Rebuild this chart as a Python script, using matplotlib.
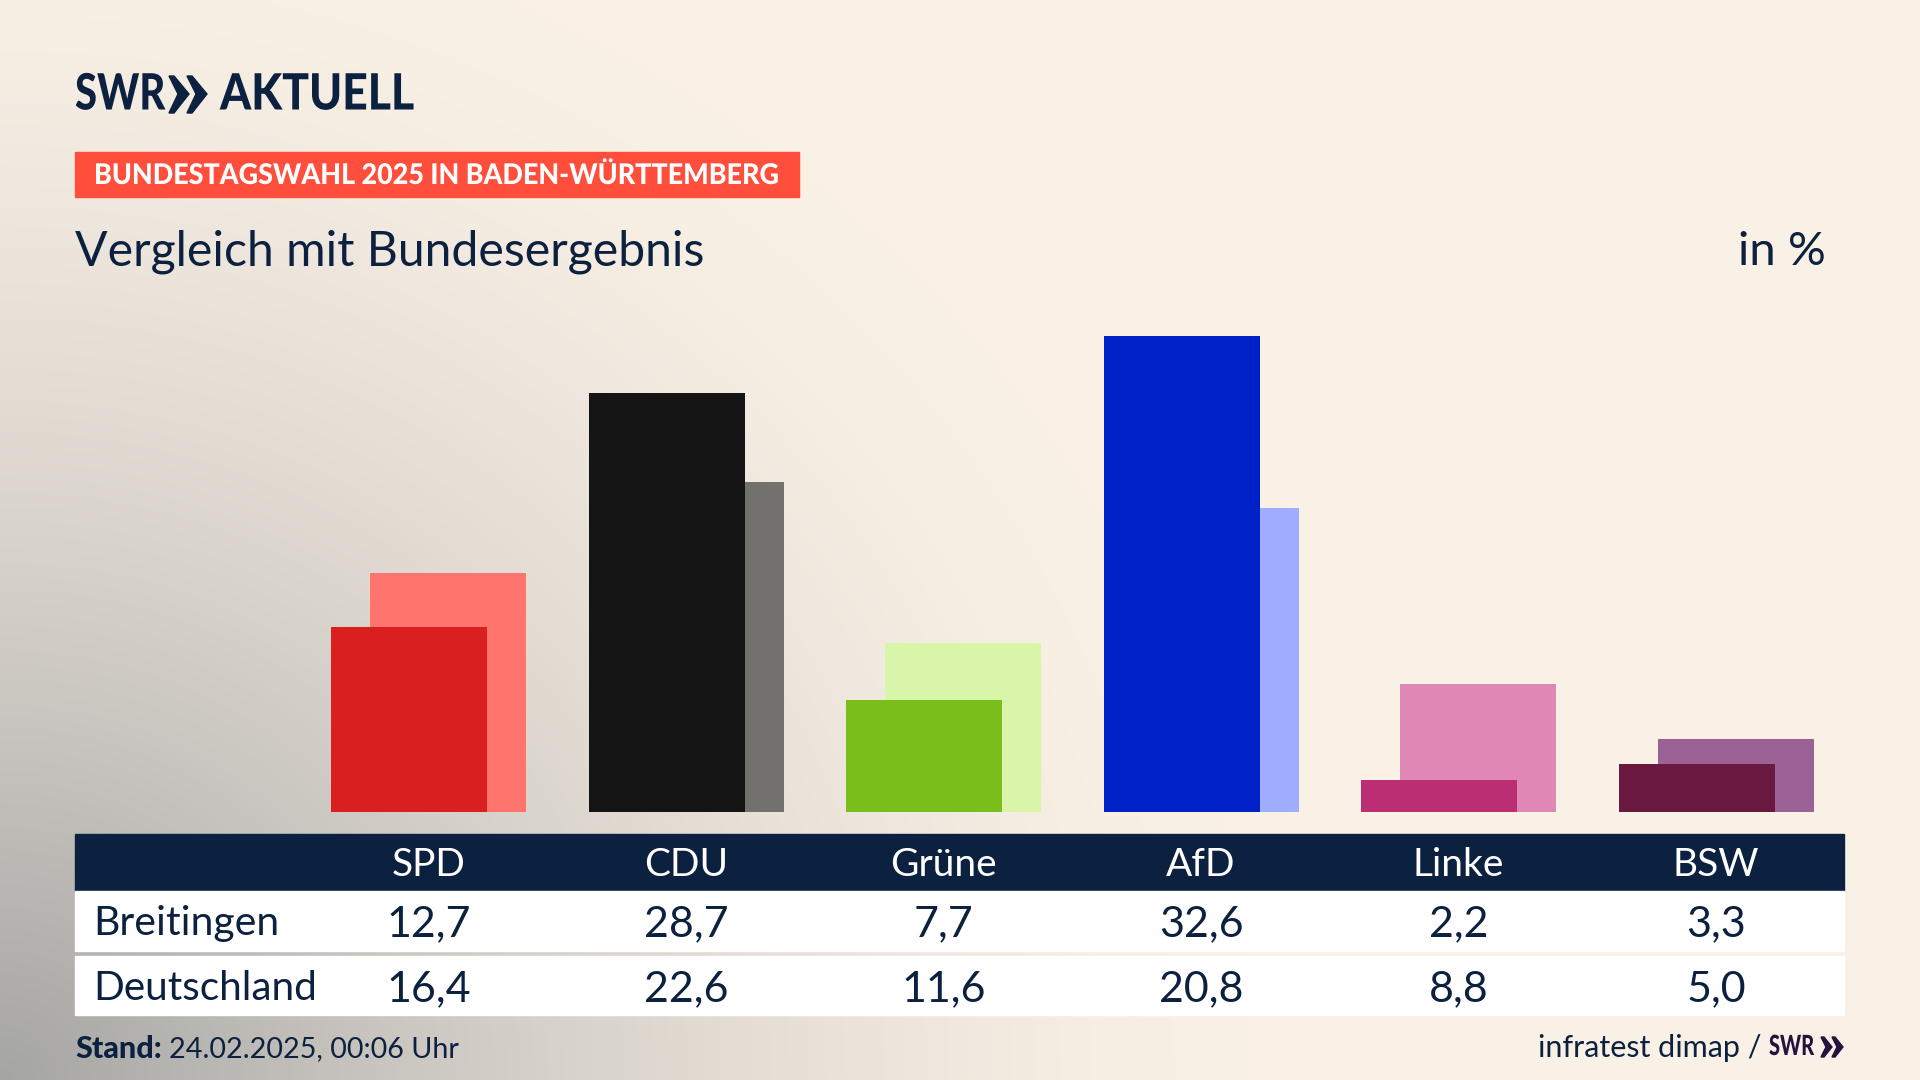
import numpy as np
from matplotlib import pyplot as plt
from matplotlib.patches import Rectangle, Polygon
from matplotlib.patheffects import AbstractPathEffect
from matplotlib.transforms import Affine2D, blended_transform_factory

plt.rcParams['font.family'] = ['Lato', 'DejaVu Sans']

parties = ['SPD', 'CDU', 'Grüne', 'AfD', 'Linke', 'BSW']
breitingen = [12.7, 28.7, 7.7, 32.6, 2.2, 3.3]
deutschland = [16.4, 22.6, 11.6, 20.8, 8.8, 5.0]
front_colors = ['#D9201E', '#141414', '#7ABE1B', '#0020C8', '#BC2E74', '#6A1A40']
back_colors = ['#FF746C', '#73716E', '#D8F5A9', '#9FADFF', '#DF88B6', '#9C6296']

NAVY = '#0C203F'
W, H = 1920, 1080


class Condense(AbstractPathEffect):
    # squeezes a text horizontally around its left edge, the installed fonts have no condensed cut
    def __init__(self, sx, x0):
        super().__init__()
        self.sx = sx
        self.x0 = x0

    def draw_path(self, renderer, gc, tpath, affine, rgbFace=None):
        squeeze = Affine2D().translate(-self.x0, 0).scale(self.sx, 1).translate(self.x0, 0)
        renderer.draw_path(gc, tpath, affine + squeeze, rgbFace)


def narrow_text(x, y, s, sx, **kw):
    t = page.text(x, y, s, va='center', ha='left', **kw)
    t.set_path_effects([Condense(sx, x)])
    return t


fig = plt.figure(figsize=(19.2, 10.8), dpi=100)

# page layer in pixel coordinates, y pointing down
page = fig.add_axes([0, 0, 1, 1])
page.set_xlim(0, W)
page.set_ylim(H, 0)
page.axis('off')

# background: cream with a grey glow from the lower left corner
xx, yy = np.meshgrid(np.linspace(0, W, 480), np.linspace(0, H, 270))
d = np.sqrt((xx / 1250) ** 2 + ((H - yy) / 1180) ** 2)
t = np.clip(1 - d, 0, 1) ** 1.5
cream = np.array([250, 241, 230]) / 255
grey = np.array([165, 165, 163]) / 255
bg = cream[None, None, :] * (1 - t[..., None]) + grey[None, None, :] * t[..., None]
page.imshow(bg, extent=(0, W, H, 0), aspect='auto', zorder=0, interpolation='bilinear')
page.set_xlim(0, W)
page.set_ylim(H, 0)

# bars, scaled so that one percent is 14.6 px and the base sits at y=812
group_px = 257.5
center0 = 428.6
bar_w = 156 / group_px
shift = 39 / group_px / 2
base_y, top_y = 812, 300
ax = fig.add_axes([75 / W, (H - base_y) / H, (1844 - 75) / W, (base_y - top_y) / H])
ax.set_xlim((75 - center0) / group_px, (1844 - center0) / group_px)
ax.set_ylim(0, (base_y - top_y) / 14.6)
ax.axis('off')
ax.patch.set_alpha(0)

x = np.arange(len(parties))
ax.bar(x + shift, deutschland, width=bar_w, color=back_colors, zorder=2)
ax.bar(x - shift, breitingen, width=bar_w, color=front_colors, zorder=3)

# logo
narrow_text(75, 95, 'SWR', 0.8, fontsize=36, fontweight='black', color=NAVY)
for px in (169, 187):
    page.add_patch(Polygon([(px, 76), (px + 5, 76), (px + 20, 94), (px + 5, 113), (px, 113), (px + 9, 94)],
                           closed=True, color=NAVY, zorder=3))
narrow_text(220, 95, 'AKTUELL', 0.89, fontsize=36, fontweight='black', color=NAVY)

# banner and headline
page.add_patch(Rectangle((75, 152), 724, 45, color='#FF4F3C', zorder=2))
narrow_text(94, 176, 'BUNDESTAGSWAHL 2025 IN BADEN-WÜRTTEMBERG', 0.945, fontsize=20.5, fontweight='black',
            color='white', zorder=3)
page.text(75, 252, 'Vergleich mit Bundesergebnis', fontsize=34.7, color=NAVY, va='center', ha='left')
page.text(1826, 252, 'in %', fontsize=34, color=NAVY, va='center', ha='right')

# table
page.add_patch(Rectangle((75, 834), 1769, 57, color=NAVY, zorder=2))
page.add_patch(Rectangle((75, 891), 1769, 60, color='white', zorder=2))
page.add_patch(Rectangle((75, 956), 1769, 59, color='white', zorder=2))

trans = blended_transform_factory(ax.transData, page.transData)
for i, name in enumerate(parties):
    page.text(i, 865, name, transform=trans, fontsize=28, color='white', ha='center', va='center', zorder=3)
    page.text(i, 924, f'{breitingen[i]:.1f}'.replace('.', ','), transform=trans, fontsize=31,
              color=NAVY, ha='center', va='center', zorder=3)
    page.text(i, 989, f'{deutschland[i]:.1f}'.replace('.', ','), transform=trans, fontsize=31,
              color=NAVY, ha='center', va='center', zorder=3)
page.text(93, 924, 'Breitingen', fontsize=29.5, color=NAVY, va='center', ha='left', zorder=3)
page.text(93, 989, 'Deutschland', fontsize=29.2, color=NAVY, va='center', ha='left', zorder=3)

# footer
page.text(75, 1049, 'Stand:', fontsize=22, fontweight='black', color=NAVY, va='center', ha='left')
page.text(169, 1049, '24.02.2025, 00:06 Uhr', fontsize=20.7, color=NAVY, va='center', ha='left')
page.text(1761, 1048, 'infratest dimap /', fontsize=22, color=NAVY, va='center', ha='right')
narrow_text(1769, 1047, 'SWR', 0.72, fontsize=20, fontweight='black', color='#24123F')
for px in (1821, 1832):
    page.add_patch(Polygon([(px, 1037), (px + 3, 1037), (px + 11, 1047), (px + 3, 1057), (px, 1057), (px + 5, 1047)],
                           closed=True, color='#24123F', zorder=3))

fig.savefig('out.png', dpi=100)
